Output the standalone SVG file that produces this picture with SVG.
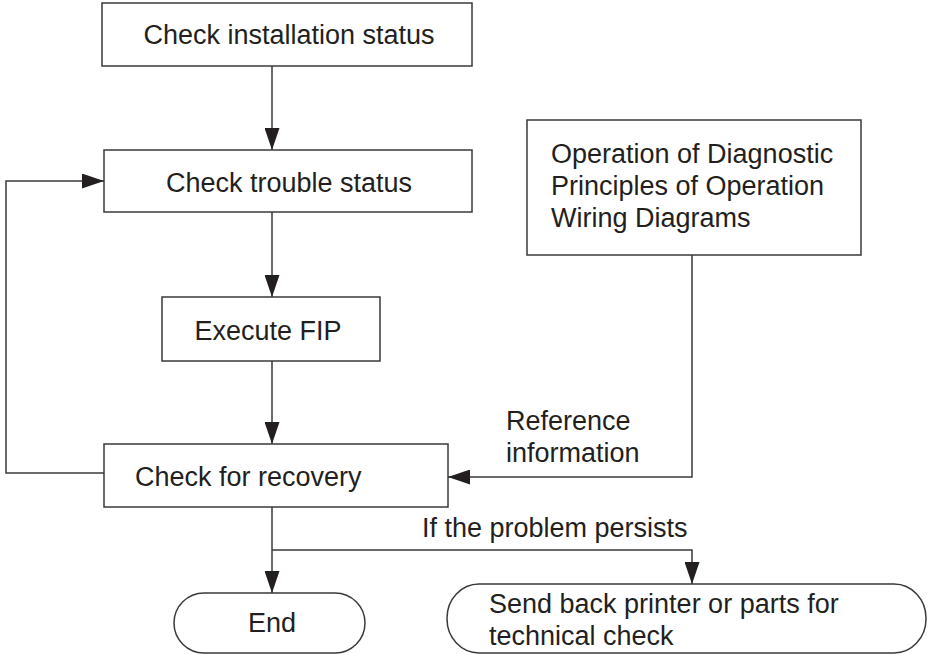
<svg xmlns="http://www.w3.org/2000/svg" width="930" height="655" viewBox="0 0 930 655">
<style>
.box{fill:#fff;stroke:#3a3a3a;stroke-width:1.5}
.ln{fill:none;stroke:#3a3a3a;stroke-width:1.5}
text{font-family:"Liberation Sans",Arial,sans-serif;font-size:27px;fill:#231f20}
.c{text-anchor:middle}
</style>
<defs>
<marker id="ah" viewBox="0 0 22 15" markerWidth="22" markerHeight="15" refX="22" refY="7.5" orient="auto" markerUnits="userSpaceOnUse">
<path d="M0,0 L22,7.5 L0,15 Z" fill="#231f20"/>
</marker>
</defs>
<g id="connectors">
<path class="ln" d="M272,66 V150" marker-end="url(#ah)"/>
<path class="ln" d="M272,212 V297" marker-end="url(#ah)"/>
<path class="ln" d="M272,361 V444" marker-end="url(#ah)"/>
<path class="ln" d="M104,473 H6 V181 H104" marker-end="url(#ah)"/>
<path class="ln" d="M692,255 V477 H448" marker-end="url(#ah)"/>
<path class="ln" d="M272,507 V593" marker-end="url(#ah)"/>
<path class="ln" d="M272,550 H692 V584" marker-end="url(#ah)"/>
<text x="506" y="430">Reference</text>
<text x="506" y="462">information</text>
<text x="422" y="537">If the problem persists</text>
</g>
<g id="n1">
<rect class="box" x="102" y="3" width="370" height="63"/>
<text class="c" x="289" y="44">Check installation status</text>
</g>
<g id="n2">
<rect class="box" x="104" y="150" width="368" height="62"/>
<text class="c" x="289" y="192">Check trouble status</text>
</g>
<g id="n3">
<rect class="box" x="162" y="297" width="218" height="64"/>
<text class="c" x="268" y="340">Execute FIP</text>
</g>
<g id="n4">
<rect class="box" x="104" y="444" width="344" height="63"/>
<text x="135" y="486">Check for recovery</text>
</g>
<g id="n5">
<rect class="box" x="527" y="120" width="334" height="135"/>
<text x="551" y="163">Operation of Diagnostic</text>
<text x="551" y="195">Principles of Operation</text>
<text x="551" y="227">Wiring Diagrams</text>
</g>
<g id="n6">
<rect class="box" x="174" y="593" width="191" height="60" rx="30" ry="30"/>
<text class="c" x="272" y="632">End</text>
</g>
<g id="n7">
<rect class="box" x="447" y="584" width="479" height="69" rx="32" ry="34"/>
<text x="489" y="613">Send back printer or parts for</text>
<text x="489" y="645">technical check</text>
</g>
</svg>
